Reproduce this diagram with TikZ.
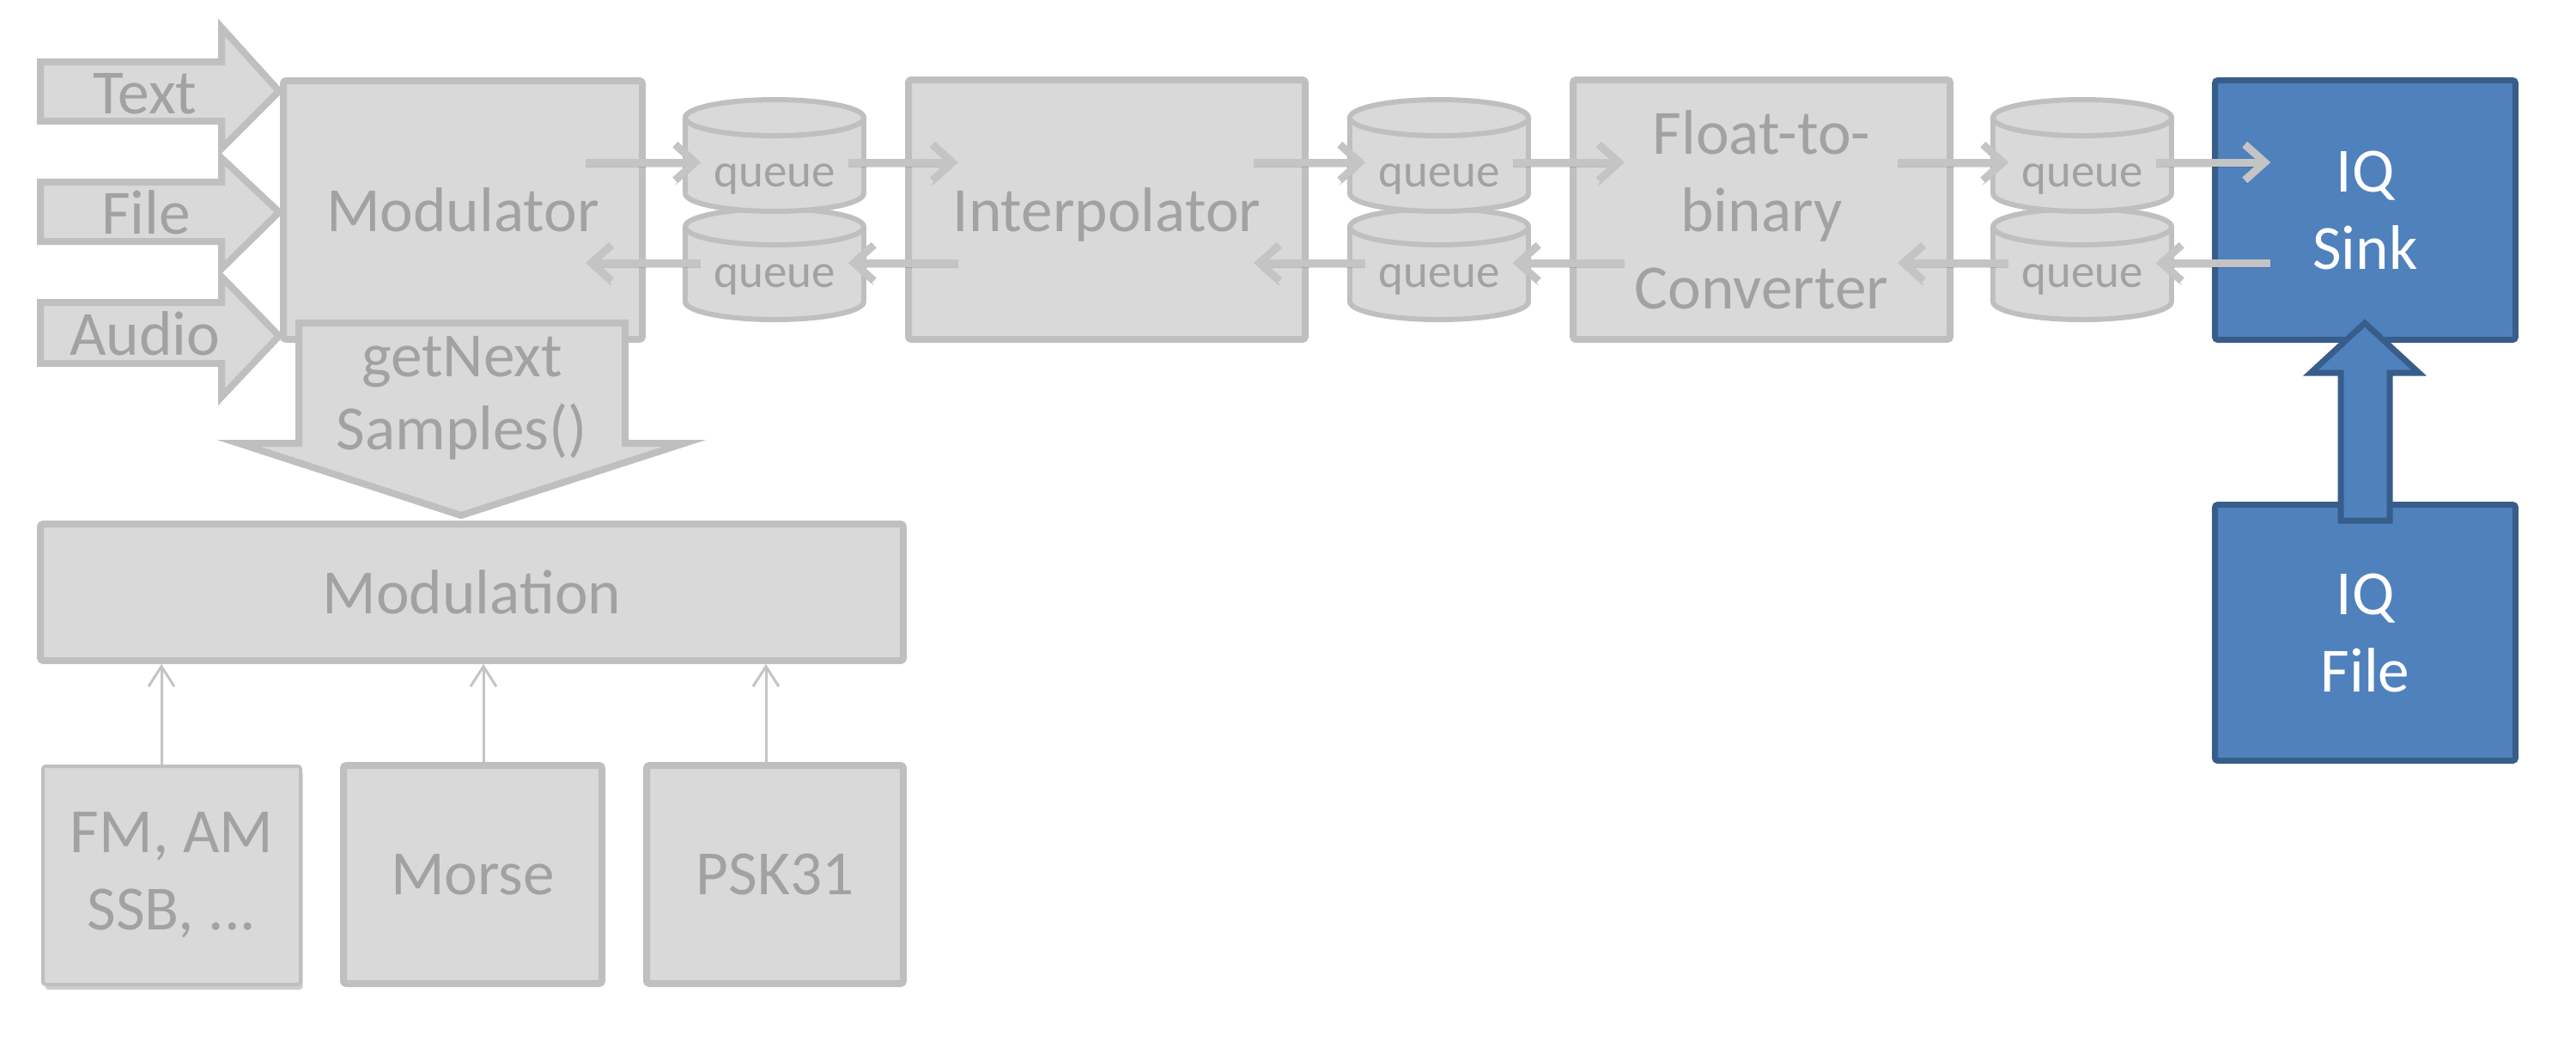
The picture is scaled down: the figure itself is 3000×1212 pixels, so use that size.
\documentclass[tikz,border=0pt]{standalone}
\usepackage{fontspec}
\setmainfont{Carlito}
\usetikzlibrary{arrows.meta,shadows}
\definecolor{boxfill}{HTML}{D9D9D9}
\definecolor{boxline}{HTML}{BFBFBF}
\definecolor{txtgray}{HTML}{A2A2A2}
\definecolor{arrowgray}{HTML}{C4C4C4}
\definecolor{bluefill}{HTML}{4F81BD}
\definecolor{blueline}{HTML}{385D8A}
\newcommand\mainfs{\fontsize{22}{27}\selectfont}
\newcommand\queuefs{\fontsize{16.5}{20}\selectfont}
\newcommand\getfs{\fontsize{22}{25.5}\selectfont}
\newcommand\qcyl[3]{%
  \filldraw[fill=boxfill, draw=boxline, line width=1.8pt] (#1,#3) ellipse [x radius=31.2pt, y radius=6.3pt];
  \fill[boxfill] (#1-104,#2) rectangle (#1+104,#3);
  \draw[boxline, line width=1.8pt] (#1-104,#2) -- (#1-104,#3) (#1+104,#2) -- (#1+104,#3);
  \filldraw[fill=boxfill, draw=boxline, line width=1.8pt] (#1,#2) ellipse [x radius=31.2pt, y radius=6.3pt];
}
\tikzset{
  graybox/.style={draw=boxline, fill=boxfill, line width=2.4pt, rounded corners=1pt,
    inner sep=0pt, align=center, font=\mainfs, text=txtgray},
  bluebox/.style={draw=blueline, fill=bluefill, line width=2.1pt, rounded corners=1pt,
    inner sep=0pt, align=center, font=\mainfs, text=white},
  blockarrow/.style={draw=boxline, fill=boxfill, line width=2.4pt, line join=miter},
  blueblock/.style={draw=blueline, fill=bluefill, line width=2.1pt, line join=miter},
  arrowtext/.style={font=\mainfs, text=txtgray, inner sep=0pt, anchor=base},
  qlabel/.style={font=\queuefs, text=txtgray, inner sep=0pt, text height=16.8pt,
    text depth=0pt, minimum width=51pt},
  qarrow/.style={draw=arrowgray, line width=2.7pt,
    -{Straight Barb[length=7pt,width=12.5pt]},
    preaction={draw=black, draw opacity=0.13, transform canvas={yshift=-1.5pt}}},
  thinarrow/.style={draw=arrowgray, line width=0.9pt,
    -{Straight Barb[length=7pt,width=9pt]}}
}
\begin{document}
\begin{tikzpicture}[x=0.3pt,y=-0.3pt]
\useasboundingbox (0,0) rectangle (3000,1212);

% input block arrows
\draw[blockarrow] (47,72) -- (258,72) -- (258,32) -- (325,106) -- (258,173) -- (258,141) -- (47,141) -- cycle;
\draw[blockarrow] (47,212) -- (258,212) -- (258,184) -- (325,247) -- (258,313) -- (258,281) -- (47,281) -- cycle;
\draw[blockarrow] (47,352) -- (258,352) -- (258,322) -- (325,391) -- (258,462) -- (258,423) -- (47,423) -- cycle;
\node[arrowtext] (intext) at (169,132) {Text};
\node[arrowtext] (infile) at (170,272) {File};
\node[arrowtext] (inaudio) at (169,413) {Audio};

% main boxes
\node[graybox, minimum width=125.4pt, minimum height=90.3pt] (modulator) at (539,244.5) {Modulator};
\node[graybox, minimum width=138.6pt, minimum height=90.6pt, text depth=0pt] (interp) at (1289,244) {Interpolator};
\node[graybox, minimum width=131.7pt, minimum height=90.6pt] (float) at (2051.5,244) {Float-to-\\binary\\Converter};
\node[bluebox, minimum width=105pt, minimum height=90.6pt] (sink) at (2754.5,244.5) {IQ\\Sink};
\node[bluebox, minimum width=105pt, minimum height=89.4pt] (iqfile) at (2754.5,736.5) {IQ\\File};

% getNextSamples arrow
\draw[blockarrow] (348,376) -- (728,376) -- (728,516) -- (797,516) -- (537,600) -- (278,516) -- (348,516) -- cycle;
\node[font=\getfs, text=txtgray, align=center, inner sep=0pt] (getnext) at (538,463) {getNext\\Samples()};

% modulation and schemes
\node[graybox, minimum width=301.5pt, minimum height=47.7pt] (modulation) at (549.5,689.5) {Modulation};
\node[graybox, line width=1.2pt, minimum width=90pt, minimum height=76.2pt,
  drop shadow={shadow xshift=0.8pt, shadow yshift=-1.8pt, opacity=0.35, fill=black!55}] (fm) at (200,1019) {FM, AM\\SSB, ...};
\node[graybox, minimum width=90.3pt, minimum height=76.2pt] (morse) at (550.5,1018) {Morse};
\node[graybox, minimum width=89.7pt, minimum height=76.2pt] (psk) at (902.5,1018) {PSK31};

\coordinate (fmT) at ([xshift=-3.6pt]fm.north);
\coordinate (morseT) at ([xshift=3.75pt]morse.north);
\coordinate (pskT) at ([xshift=-3.15pt]psk.north);
\draw[thinarrow] (fmT) -- (fmT |- modulation.south);
\draw[thinarrow] (morseT) -- (morseT |- modulation.south);
\draw[thinarrow] (pskT) -- (pskT |- modulation.south);

% IQ file -> IQ sink
\draw[blueblock] (2726,606) -- (2726,434) -- (2691,434) -- (2754,376) -- (2817,434) -- (2783,434) -- (2783,606) -- cycle;

% queues
\qcyl{902}{264}{351}
\qcyl{902}{137}{225}
\qcyl{1676}{264}{351}
\qcyl{1676}{137}{225}
\qcyl{2425}{264}{351}
\qcyl{2425}{137}{225}
\node[qlabel] (q1f) at (902,189) {queue};
\node[qlabel] (q1b) at (902,306) {queue};
\node[qlabel] (q2f) at (1676,189) {queue};
\node[qlabel] (q2b) at (1676,306) {queue};
\node[qlabel] (q3f) at (2425,189) {queue};
\node[qlabel] (q3b) at (2425,306) {queue};

% connector ends inside boxes
\coordinate (modR) at ([xshift=-21pt]modulator.east);
\coordinate (intL) at ([xshift=18.6pt]interp.west);
\coordinate (intR) at ([xshift=-19.2pt]interp.east);
\coordinate (floL) at ([xshift=19.2pt]float.west);
\coordinate (floR) at ([xshift=-19.5pt]float.east);
\coordinate (sinkL) at ([xshift=20.5pt]sink.west);

% forward queue arrows
\draw[qarrow] (modR |- q1f) -- (q1f.west);
\draw[qarrow] (q1f.east) -- (intL |- q1f);
\draw[qarrow] (intR |- q2f) -- (q2f.west);
\draw[qarrow] (q2f.east) -- (floL |- q2f);
\draw[qarrow] (floR |- q3f) -- (q3f.west);
\draw[qarrow] (q3f.east) -- (sinkL |- q3f);
% backward queue arrows
\draw[qarrow] (sinkL |- q3b) -- (q3b.east);
\draw[qarrow] (q3b.west) -- (floR |- q3b);
\draw[qarrow] (floL |- q2b) -- (q2b.east);
\draw[qarrow] (q2b.west) -- (intR |- q2b);
\draw[qarrow] (intL |- q1b) -- (q1b.east);
\draw[qarrow] (q1b.west) -- (modR |- q1b);
\end{tikzpicture}
\end{document}
